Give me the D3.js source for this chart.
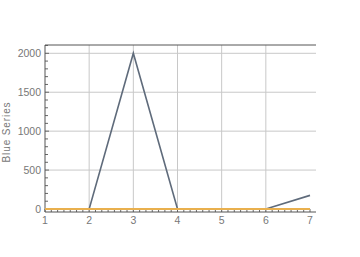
<!DOCTYPE html>
<html><head><meta charset="utf-8">
<script src="https://cdn.jsdelivr.net/npm/d3@7"></script>
<style>body{margin:0;background:#fff}svg{display:block}text{font-family:"Liberation Sans",Arial,sans-serif}</style>
</head><body><svg id="c" width="360" height="257"></svg>
<script>
const xValues = [1, 2, 3, 4, 5, 6, 7];
const blueSeries = [0, 0, 2000, 0, 0, 0, 175];
const orangeSeries = [0, 0, 0, 0, 0, 0, 0];
const xTicks = [1, 2, 3, 4, 5, 6, 7];
const yTicks = [0, 500, 1000, 1500, 2000];
const yTitle = "Blue Series";

const svg = d3.select("#c");
const L = 45, R = 316, T = 45, B = 212;
const x = d3.scaleLinear().domain([1, 7]).range([L, 310]);
const y = d3.scaleLinear().domain([0, 2000]).range([209, 53.3]);

// grid
svg.append("g").selectAll("line").data(xTicks.filter(d => d > 1 && d < 7)).join("line")
  .attr("x1", d => x(d)).attr("x2", d => x(d)).attr("y1", T).attr("y2", B)
  .attr("stroke", "#c8c8c8").attr("stroke-width", 1);
svg.append("g").selectAll("line").data(yTicks.filter(d => d > 0)).join("line")
  .attr("x1", L).attr("x2", R).attr("y1", d => y(d)).attr("y2", d => y(d))
  .attr("stroke", "#c8c8c8").attr("stroke-width", 1);

// minor ticks
const xMinor = d3.range(0, 43).map(i => 1 + i / 7);
svg.append("g").selectAll("line").data(xMinor).join("line")
  .attr("x1", d => x(d)).attr("x2", d => x(d)).attr("y1", B).attr("y2", B - 3)
  .attr("stroke", "#666").attr("stroke-width", 1);
const yMinor = d3.range(0, 22).map(i => i * 100);
svg.append("g").selectAll("line").data(yMinor).join("line")
  .attr("x1", L).attr("x2", d => L + (d % 500 === 0 ? 4 : 3)).attr("y1", d => y(d)).attr("y2", d => y(d))
  .attr("stroke", "#666").attr("stroke-width", 1);

// frame
svg.append("line").attr("x1", L).attr("x2", R).attr("y1", T).attr("y2", T).attr("stroke", "#555");
svg.append("line").attr("x1", L).attr("x2", R).attr("y1", B).attr("y2", B).attr("stroke", "#555");
svg.append("line").attr("x1", L).attr("x2", L).attr("y1", T).attr("y2", B).attr("stroke", "#555");

// labels
svg.append("g").selectAll("text").data(xTicks).join("text")
  .attr("x", d => x(d)).attr("y", 224).attr("text-anchor", "middle")
  .attr("font-size", 10.5).attr("fill", "#777").text(d => d);
svg.append("g").selectAll("text").data(yTicks).join("text")
  .attr("x", 41).attr("y", d => y(d) + 3.8).attr("text-anchor", "end")
  .attr("font-size", 10.5).attr("fill", "#777").text(d => d);
svg.append("text").attr("transform", "translate(10,132) rotate(-90)")
  .attr("text-anchor", "middle").attr("font-size", 10).attr("letter-spacing", 0.9)
  .attr("fill", "#777").text(yTitle);

// series
const line = d3.line().x((d, i) => x(xValues[i])).y(d => y(d));
svg.append("path").datum(blueSeries).attr("d", line).attr("fill", "none")
  .attr("stroke", "#5f6b7b").attr("stroke-width", 1.6);
svg.append("path").datum(orangeSeries).attr("d", line).attr("fill", "none")
  .attr("stroke", "#e9b04e").attr("stroke-width", 2);
</script></body></html>
